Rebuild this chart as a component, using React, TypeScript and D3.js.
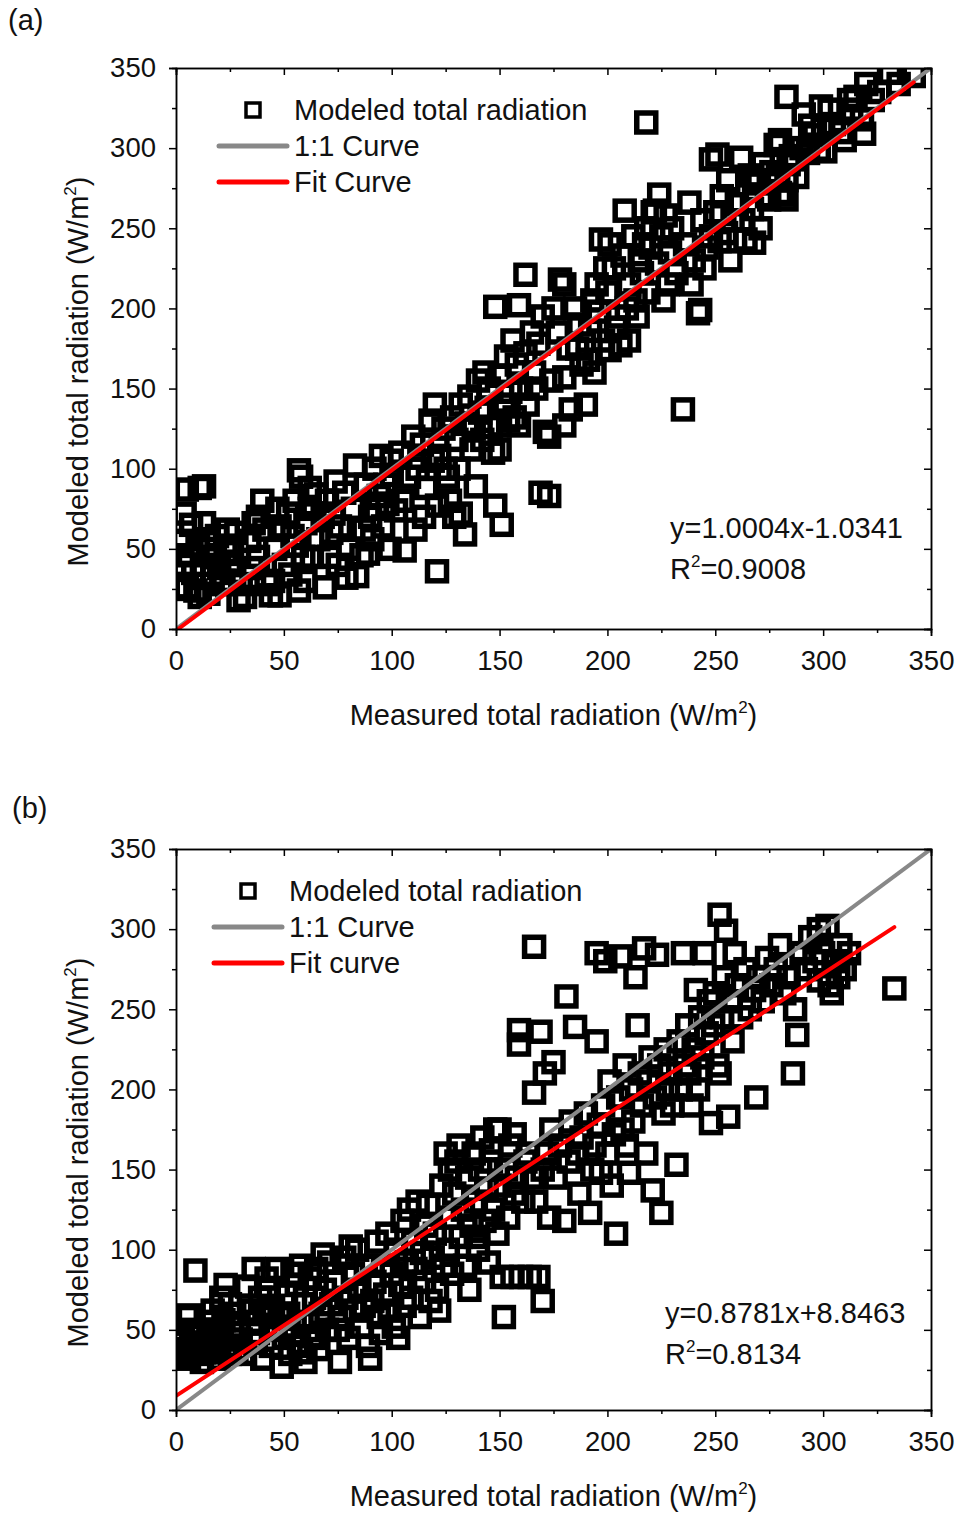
import React, { useEffect, useRef } from "react";
import * as d3 from "d3";

const majorTicks = [0, 50, 100, 150, 200, 250, 300, 350];
const minorTicks = [25, 75, 125, 175, 225, 275, 325];

const pointsA: [number, number][] = [
  [2,25],[4,72],[5,87],[11,88],[13,89],[3,55],[6,46],[5,26],[9,24],[11,20],[15,22],[8,35],[12,40],[16,50],[14,56],[18,45],[20,38],[22,30],[19,58],[24,62],[26,52],[21,28],[17,33],[25,42],[28,60],[27,35],[23,48],[29,18],[30,28],[10,52],[7,65],[13,66],[4,40],
  [32,20],[34,55],[36,66],[38,70],[40,80],[41,62],[44,21],[45,30],[46,50],[48,21],[48,64],[50,40],[52,72],[54,58],[55,80],[57,99],[58,95],[57,24],[59,45],[60,66],[62,75],[35,38],[38,45],[42,28],[47,75],[53,34],[56,52],[60,30],[62,88],[65,84],[63,45],[66,56],
  [68,70],[69,26],[70,80],[72,60],[74,92],[76,64],[78,85],[80,50],[82,75],[84,33],[86,46],[88,90],[90,70],[91,56],[92,100],[94,83],[96,64],[98,78],[100,96],[100,105],[75,40],[79,32],[83,102],[87,62],[89,47],[93,75],[95,108],[97,90],[99,50],[71,45],[73,72],
  [102,74],[104,110],[106,49],[108,95],[110,120],[111,62],[112,100],[114,115],[116,88],[118,130],[120,140],[121,77],[121,36],[122,108],[124,125],[125,100],[127,80],[128,132],[129,70],[130,118],[132,72],[132,140],[134,59],[135,128],[136,145],[137,112],[139,89],[140,155],[141,135],[142,118],[143,160],[145,150],[146,126],[148,77],[148,201],[150,112],[150,127],[150,158],[151,65],[152,140],[153,170],[155,148],[156,180],[157,132],[158,165],[159,202],[159,127],[160,150],[162,221],[162,172],[163,140],[165,185],[166,160],[168,178],[169,85],[171,123],[173,83],[173,120],[170,195],[167,150],[105,80],[115,70],[119,105],[126,95],[131,100],[138,125],[144,138],[147,110],[154,130],
  [174,155],[175,200],[177,185],[178,218],[180,215],[180,127],[180,157],[182,175],[183,137],[185,200],[187,190],[188,165],[190,140],[191,168],[192,186],[193,205],[195,215],[196,198],[197,243],[198,180],[200,210],[201,174],[201,240],[203,225],[205,195],[206,177],[207,233],[208,261],[210,180],[210,215],[212,245],[213,205],[215,230],[216,222],[218,316],[218,250],[219,210],[220,238],[221,260],[222,261],[223,228],[224,271],[225,245],[227,258],[228,215],[229,235],[186,175],[194,160],[199,225],[204,188],[209,200],[214,195],[217,240],[226,205],
  [230,250],[232,222],[235,137],[236,240],[238,266],[240,230],[242,197],[243,199],[244,255],[246,238],[248,293],[248,245],[250,260],[251,296],[252,242],[253,270],[255,247],[256,280],[257,230],[258,255],[260,265],[262,294],[264,243],[266,283],[267,262],[268,241],[268,280],[270,278],[272,290],[274,270],[275,268],[276,285],[278,302],[280,305],[280,272],[282,271],[283,268],[283,280],[284,290],[285,295],[287,293],[288,282],[290,300],[291,321],[293,297],[294,314],[296,308],[298,299],[299,326],[239,215],[245,225],[263,255],[271,250],[279,283],
  [301,298],[303,324],[305,315],[308,310],[312,330],[313,324],[315,332],[318,318],[319,309],[320,340],[323,330],[326,335],[331,347],[335,340],[342,345],[283,332],[310,305],[300,312]
];

const pointsB: [number, number][] = [
  [2,38],[3,45],[4,35],[5,58],[6,59],[6,32],[8,40],[9,87],[10,35],[12,48],[12,30],[14,42],[15,55],[16,36],[18,38],[18,50],[20,45],[20,32],[22,56],[23,78],[24,40],[25,35],[26,48],[27,60],[28,38],[29,52],[30,44],[7,50],[11,42],[17,62],[21,70],[25,66],[13,36],[1,42],
  [32,35],[33,77],[35,55],[36,88],[38,48],[39,70],[40,32],[41,60],[42,82],[44,40],[45,65],[46,50],[47,88],[49,27],[50,45],[51,72],[52,60],[53,35],[54,85],[55,52],[56,78],[57,40],[58,90],[59,66],[60,30],[61,55],[62,82],[63,46],[64,70],[65,88],[66,38],[67,60],[68,97],[69,75],[70,50],[34,62],[37,42],[43,75],[48,58],[58,36],[65,45],
  [71,92],[72,66],[74,80],[76,30],[77,58],[78,95],[79,70],[80,45],[82,85],[83,62],[84,100],[85,75],[86,52],[88,90],[89,40],[90,32],[91,68],[92,80],[93,105],[94,58],[95,48],[96,90],[97,72],[98,110],[99,62],[100,85],[101,52],[102,100],[104,78],[105,118],[106,65],[107,92],[108,125],[109,70],[110,105],[111,88],[112,130],[113,58],[114,98],[115,80],[116,115],[117,128],[118,68],[119,95],[120,110],[121,75],[122,62],[75,50],[81,102],[87,65],[103,45],
  [123,140],[124,90],[125,160],[126,100],[127,120],[128,85],[129,135],[130,155],[131,165],[132,108],[133,125],[134,90],[135,145],[136,75],[137,115],[138,160],[139,130],[140,100],[141,150],[142,170],[143,118],[144,138],[145,92],[146,155],[147,125],[148,175],[149,110],[150,175],[150,140],[151,83],[152,58],[153,150],[154,120],[155,165],[156,83],[157,135],[158,145],[159,237],[159,228],[160,83],[161,130],[162,155],[163,160],[164,83],[165,145],[166,289],[166,198],[167,130],[168,83],[169,236],[170,68],[170,150],[127,150],[139,108],[146,162],[157,172],
  [171,210],[172,160],[173,120],[174,175],[175,217],[176,145],[178,165],[180,118],[181,258],[182,155],[183,180],[185,239],[186,160],[187,135],[188,170],[190,185],[192,123],[193,150],[194,165],[195,230],[195,285],[196,178],[197,148],[198,190],[199,280],[200,160],[201,205],[202,140],[203,172],[204,110],[205,195],[206,283],[207,175],[208,215],[209,165],[210,148],[211,200],[212,180],[213,270],[214,240],[215,210],[216,190],[217,288],[218,160],[219,205],[220,220],[221,137],[222,195],[223,284],[224,215],[225,123],[226,185],[227,225],[228,200],[229,210],[230,190],
  [232,153],[233,230],[234,200],[235,285],[236,215],[237,240],[238,210],[239,190],[240,225],[241,262],[242,200],[243,245],[244,220],[245,285],[246,235],[247,255],[248,179],[249,240],[250,260],[251,215],[252,309],[252,210],[253,245],[254,270],[255,299],[256,183],[257,255],[258,230],[259,285],[260,265],[262,245],[264,275],[266,250],[268,262],[269,195],[270,270],[272,255],[274,282],[276,265],[278,275],[280,290],[282,260],[284,270],[286,210],[287,250],[288,234],[290,285],[292,275],[294,295],[296,280],[298,268],
  [300,285],[302,302],[303,265],[304,260],[306,280],[308,290],[310,275],[312,285],[333,263],[298,300],[307,270]
];

const panels = [
  { label: "(a)", pts: pointsA, top: 68, bottom: 629, slope: 1.0004, icpt: -1.0341, fitX: [1, 342], eq: "y=1.0004x-1.0341", r2: "=0.9008", fitName: "Fit Curve", legendX: 219, labelPos: [8, 30], eqPos: [670, 538] },
  { label: "(b)", pts: pointsB, top: 849, bottom: 1410, slope: 0.8781, icpt: 8.8463, fitX: [0, 333], eq: "y=0.8781x+8.8463", r2: "=0.8134", fitName: "Fit curve", legendX: 214, labelPos: [12, 818], eqPos: [665, 1323] },
];

const FONT = "'Liberation Sans', Arial, Helvetica, sans-serif";

export default function App() {
  const ref = useRef<SVGSVGElement>(null);
  useEffect(() => {
    const svg = d3.select(ref.current);
    svg.selectAll("*").remove();
    const left = 176, right = 931;
    panels.forEach((p) => {
      const x = d3.scaleLinear().domain([0, 350]).range([left, right]);
      const y = d3.scaleLinear().domain([0, 350]).range([p.bottom, p.top]);
      const g = svg.append("g");

      const clipId = "clip" + p.label.replace(/\W/g, "");
      svg.append("clipPath").attr("id", clipId).append("rect")
        .attr("x", left).attr("y", p.top).attr("width", right - left).attr("height", p.bottom - p.top);
      const pg = g.append("g").attr("clip-path", `url(#${clipId})`);
      const s = 19;
      pg.selectAll("rect.pt").data(p.pts).enter().append("rect")
        .attr("x", (d) => x(d[0]) - s / 2).attr("y", (d) => y(d[1]) - s / 2)
        .attr("width", s).attr("height", s)
        .attr("fill", "none").attr("stroke", "#000").attr("stroke-width", 5.5);

      const line = d3.line<number>().x((v) => x(v)).y((v) => y(p.slope * v + p.icpt));
      pg.append("path").datum([0, 350]).attr("d", d3.line<number>().x((v) => x(v)).y((v) => y(v)))
        .attr("stroke", "#888").attr("stroke-width", 4).attr("fill", "none");
      pg.append("path").datum(p.fitX).attr("d", line)
        .attr("stroke", "#ff0000").attr("stroke-width", 4).attr("fill", "none").attr("stroke-linecap", "round");

      const styleAxis = (sel: any) => {
        sel.select(".domain").attr("stroke", "#000").attr("stroke-width", 1.5);
        sel.selectAll(".tick line").attr("stroke", "#000").attr("stroke-width", 1.5);
        sel.selectAll("text").attr("font-family", FONT).attr("font-size", 27.5).attr("fill", "#111");
      };
      const bot = g.append("g").attr("transform", `translate(0,${p.bottom})`)
        .call(d3.axisBottom(x).tickValues(majorTicks).tickSize(7).tickPadding(14).tickFormat(d3.format("d")));
      styleAxis(bot);
      const botMinor = g.append("g").attr("transform", `translate(0,${p.bottom})`)
        .call(d3.axisBottom(x).tickValues(minorTicks).tickSize(4).tickFormat(() => ""));
      styleAxis(botMinor);
      const lft = g.append("g").attr("transform", `translate(${left},0)`)
        .call(d3.axisLeft(y).tickValues(majorTicks).tickSize(7).tickPadding(13).tickFormat(d3.format("d")));
      styleAxis(lft);
      const lftMinor = g.append("g").attr("transform", `translate(${left},0)`)
        .call(d3.axisLeft(y).tickValues(minorTicks).tickSize(4).tickFormat(() => ""));
      styleAxis(lftMinor);
      const top = g.append("g").attr("transform", `translate(0,${p.top})`)
        .call(d3.axisTop(x).tickValues(majorTicks).tickSize(-7).tickFormat(() => ""));
      styleAxis(top);
      const topMinor = g.append("g").attr("transform", `translate(0,${p.top})`)
        .call(d3.axisTop(x).tickValues(minorTicks).tickSize(-4).tickFormat(() => ""));
      styleAxis(topMinor);
      const rgt = g.append("g").attr("transform", `translate(${right},0)`)
        .call(d3.axisRight(y).tickValues(majorTicks).tickSize(-7).tickFormat(() => ""));
      styleAxis(rgt);
      const rgtMinor = g.append("g").attr("transform", `translate(${right},0)`)
        .call(d3.axisRight(y).tickValues(minorTicks).tickSize(-4).tickFormat(() => ""));
      styleAxis(rgtMinor);

      const txt = (tx: number, ty: number) =>
        g.append("text").attr("x", tx).attr("y", ty).attr("font-family", FONT).attr("font-size", 29).attr("fill", "#111");

      txt(p.labelPos[0], p.labelPos[1]).text(p.label);

      const xt = txt((left + right) / 2, p.bottom + 96).attr("text-anchor", "middle");
      xt.append("tspan").text("Measured total radiation (W/m");
      xt.append("tspan").attr("font-size", 17).attr("dy", -12).text("2");
      xt.append("tspan").attr("dy", 12).text(")");

      const yt = g.append("text").attr("transform", `translate(88,${(p.top + p.bottom) / 2 + 23}) rotate(-90)`)
        .attr("text-anchor", "middle").attr("font-family", FONT).attr("font-size", 29).attr("fill", "#111");
      yt.append("tspan").text("Modeled total radiation (W/m");
      yt.append("tspan").attr("font-size", 17).attr("dy", -12).text("2");
      yt.append("tspan").attr("dy", 12).text(")");

      const lx = p.legendX;
      const ly = p.top + 42;
      g.append("rect").attr("x", lx + 34 - 7).attr("y", ly - 7).attr("width", 14).attr("height", 14)
        .attr("fill", "none").attr("stroke", "#000").attr("stroke-width", 3.5);
      txt(lx + 75, ly + 10).text("Modeled total radiation");
      g.append("line").attr("x1", lx).attr("x2", lx + 68).attr("y1", ly + 36).attr("y2", ly + 36)
        .attr("stroke", "#888").attr("stroke-width", 5).attr("stroke-linecap", "round");
      txt(lx + 75, ly + 46).text("1:1 Curve");
      g.append("line").attr("x1", lx).attr("x2", lx + 68).attr("y1", ly + 72).attr("y2", ly + 72)
        .attr("stroke", "#ff0000").attr("stroke-width", 5).attr("stroke-linecap", "round");
      txt(lx + 75, ly + 82).text(p.fitName);

      txt(p.eqPos[0], p.eqPos[1]).text(p.eq);
      const r = txt(p.eqPos[0], p.eqPos[1] + 41);
      r.append("tspan").text("R");
      r.append("tspan").attr("font-size", 17).attr("dy", -12).text("2");
      r.append("tspan").attr("dy", 12).text(p.r2);
    });
  }, []);
  return (
    <svg ref={ref} width={958} height={1514} style={{ position: "absolute", left: 0, top: 0, background: "#fff" }} />
  );
}
